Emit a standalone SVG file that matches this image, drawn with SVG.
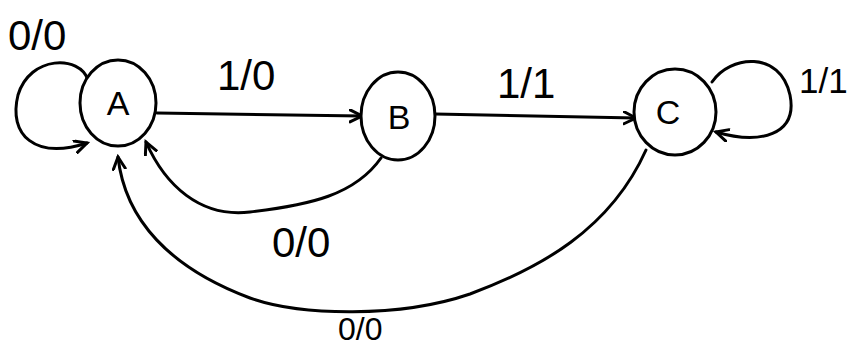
<svg xmlns="http://www.w3.org/2000/svg" width="851" height="350" viewBox="0 0 851 350">
<style>
.node{fill:#fff;stroke:#000;stroke-width:3}
.edge{fill:none;stroke:#000;stroke-width:3;stroke-linecap:round}
.lbl{font-family:"Liberation Sans",Arial,sans-serif;font-size:42px;fill:#000}
.nl{font-family:"Liberation Sans",Arial,sans-serif;font-size:34px;fill:#000;text-anchor:middle}
</style>
<defs>
<marker id="arr" markerUnits="userSpaceOnUse" markerWidth="16" markerHeight="16" refX="13" refY="7" orient="auto">
<path d="M1,1 L13,7 L1,13" fill="none" stroke="#000" stroke-width="3" stroke-linecap="round"/>
</marker>
</defs>
<g id="connectors">
<path class="edge" d="M88,80 C80,55 30,55 18,95 C8,135 35,160 87,143" marker-end="url(#arr)"/>
<path class="edge" d="M157,113 L362,116" marker-end="url(#arr)"/>
<path class="edge" d="M435,114 L636,118" marker-end="url(#arr)"/>
<path class="edge" d="M712,82 C730,55 780,50 790,95 C798,135 760,145 716,132" marker-end="url(#arr)"/>
<path class="edge" d="M381,158 C355,195 310,205 250,212 C200,218 165,185 146,142" marker-end="url(#arr)"/>
<path class="edge" d="M646,150 C610,230 540,268 470,294 C400,318 300,316 250,298 C170,268 125,220 118,157" marker-end="url(#arr)"/>
<text class="lbl" x="8" y="50">0/0</text>
<text class="lbl" x="217" y="90">1/0</text>
<text class="lbl" x="497" y="98">1/1</text>
<text class="lbl" x="799" y="93" style="font-size:35px">1/1</text>
<text class="lbl" x="338" y="340" style="font-size:32px">0/0</text>
<text class="lbl" x="272" y="257">0/0</text>
</g>
<g id="A"><ellipse class="node" cx="118" cy="103" rx="38" ry="43"/><text class="nl" x="118" y="115">A</text></g>
<g id="B"><ellipse class="node" cx="398" cy="116" rx="37" ry="44"/><text class="nl" x="399" y="129">B</text></g>
<g id="C"><ellipse class="node" cx="675" cy="112" rx="41" ry="43"/><text class="nl" x="668" y="124">C</text></g>
</svg>
